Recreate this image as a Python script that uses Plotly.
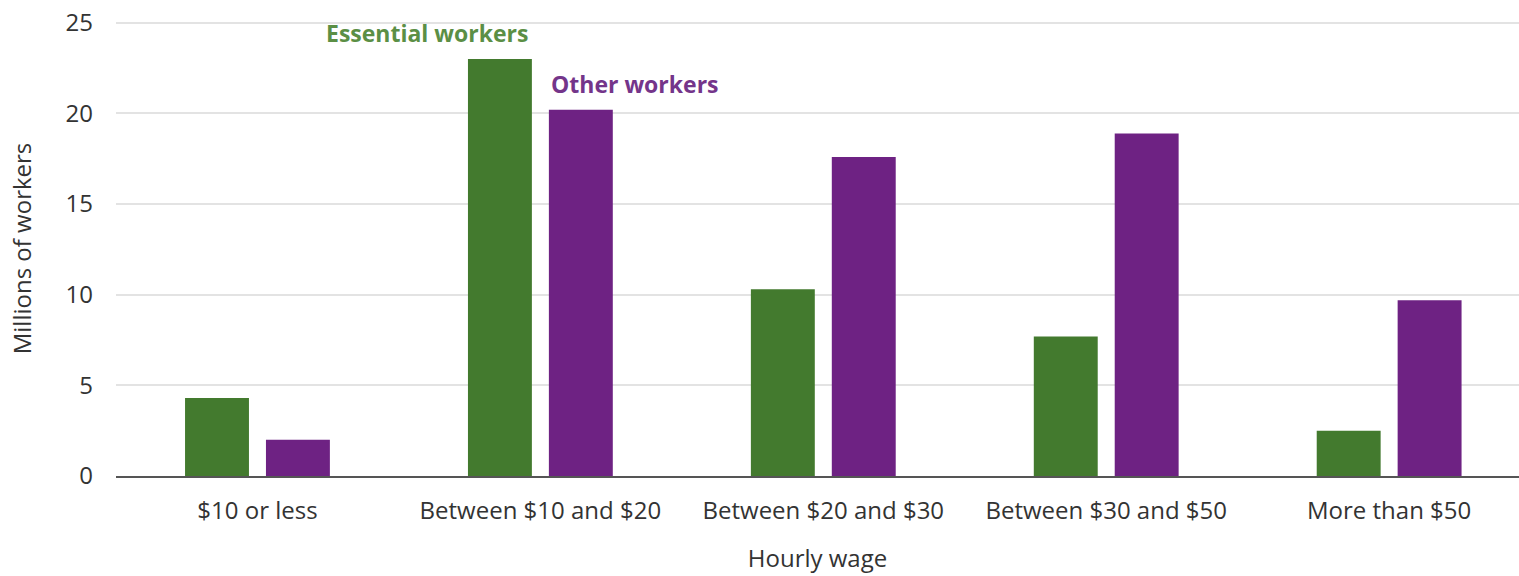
import plotly.graph_objects as go

categories = ["$10 or less", "Between $10 and $20", "Between $20 and $30",
              "Between $30 and $50", "More than $50"]
essential = [4.3, 23.0, 10.3, 7.7, 2.5]
other = [2.0, 20.2, 17.6, 18.9, 9.7]

GREEN = "#437a2e"
PURPLE = "#6e2283"
FONT = "Open Sans"
TXT = "#333333"

fig = go.Figure()
fig.add_trace(go.Bar(x=categories, y=essential, name="Essential workers",
                     marker=dict(color=GREEN, line=dict(width=0))))
fig.add_trace(go.Bar(x=categories, y=other, name="Other workers",
                     marker=dict(color=PURPLE, line=dict(width=0))))

fig.add_annotation(x=0.60, y=24.45, xref="x", yref="y", text="<b>Essential workers</b>",
                   showarrow=False, font=dict(family=FONT, size=23, color="#5b8f45"))
fig.add_annotation(x=1.336, y=21.6, xref="x", yref="y", text="<b>Other workers</b>",
                   showarrow=False, font=dict(family=FONT, size=23, color="#74358a"))

fig.update_layout(
    width=1519, height=576,
    margin=dict(l=116, r=0, t=21, b=100),
    paper_bgcolor="white", plot_bgcolor="white",
    barmode="group", bargap=0.428, bargroupgap=0.21,
    showlegend=False,
    font=dict(family=FONT, size=24, color=TXT),
    xaxis=dict(
        type="category", range=[-0.5, 4.459],
        showline=True, linecolor="#555555", linewidth=2,
        showgrid=False, ticks="", ticklabelstandoff=12,
        tickfont=dict(size=24, color=TXT),
        title=dict(text="Hourly wage", font=dict(size=24, color=TXT), standoff=25),
    ),
    yaxis=dict(
        range=[0, 25.1], tickvals=[0, 5, 10, 15, 20, 25],
        showgrid=True, gridcolor="#e3e3e3", gridwidth=1.5,
        zeroline=False, showline=False, ticks="", ticklabelstandoff=22,
        tickfont=dict(size=24, color=TXT),
        title=dict(text="Millions of workers", font=dict(size=24, color=TXT), standoff=27),
    ),
)

fig.write_html("out.html")
